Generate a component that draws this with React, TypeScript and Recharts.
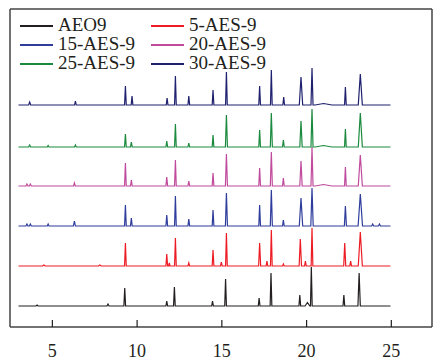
import React from 'react';
import { LineChart, Line, XAxis, YAxis } from 'recharts';

// peak tables: [2theta, height, half width]
const aeo9Peaks = [
  [4.1, 1, 0.06], [8.28, 2, 0.06], [9.27, 18, 0.05], [11.75, 5, 0.05], [12.2, 19, 0.05],
  [14.45, 5, 0.05], [15.22, 27, 0.05], [17.2, 8, 0.05], [17.9, 33, 0.05], [19.6, 11, 0.05],
  [20.05, 3.5, 0.14], [20.28, 39, 0.05], [22.2, 11, 0.05], [23.1, 33, 0.07],
];
const aes5Peaks = [
  [4.5, 1, 0.08], [7.8, 1, 0.08], [9.31, 23, 0.05], [11.75, 12, 0.05], [11.9, 3, 0.04], [12.26, 28, 0.05],
  [13.05, 3, 0.05], [14.48, 16, 0.05], [14.97, 4, 0.05], [15.27, 33, 0.05], [17.23, 23, 0.06],
  [17.66, 5, 0.05], [17.92, 36, 0.05], [18.63, 2, 0.05], [19.63, 27, 0.07], [19.93, 5, 0.05],
  [20.32, 38, 0.05], [22.25, 23, 0.06], [22.6, 5, 0.05], [23.17, 34, 0.12],
];
const aes15Peaks = [
  [3.5, 2, 0.06], [3.7, 2, 0.06], [4.75, 2, 0.05], [6.3, 5, 0.06], [9.31, 21, 0.05], [9.66, 8, 0.05],
  [11.75, 11, 0.05], [12.26, 30, 0.05], [13.05, 7, 0.05], [14.48, 16, 0.05], [15.27, 33, 0.06],
  [17.23, 21, 0.05], [17.92, 36, 0.06], [18.63, 6, 0.05], [19.67, 28, 0.1], [20.32, 38, 0.07],
  [22.29, 20, 0.06], [23.17, 32, 0.13], [23.9, 2, 0.06], [24.3, 2, 0.06],
];
const aes20Peaks = [
  [3.5, 2, 0.06], [3.7, 2, 0.06], [6.3, 3, 0.05], [9.31, 23, 0.05], [9.66, 6, 0.05],
  [11.75, 9, 0.05], [12.26, 26, 0.05], [13.05, 5, 0.05], [14.48, 13, 0.05], [15.27, 32, 0.06],
  [17.23, 18, 0.05], [17.92, 34, 0.06], [18.63, 8, 0.05], [19.67, 25, 0.07], [20.32, 39, 0.06],
  [21.0, 1.5, 0.5], [22.29, 19, 0.05], [23.17, 31, 0.12],
];
const aes25Peaks = [
  [3.66, 2, 0.06], [4.75, 1.5, 0.05], [6.36, 2, 0.05], [9.31, 13, 0.05], [9.66, 5, 0.05],
  [11.75, 6, 0.05], [12.26, 23, 0.05], [13.05, 4, 0.05], [14.48, 12, 0.05], [15.27, 32, 0.06],
  [17.23, 17, 0.05], [17.92, 34, 0.06], [18.63, 7, 0.05], [19.67, 26, 0.07], [20.32, 38, 0.06],
  [21.0, 1.5, 0.5], [22.29, 18, 0.05], [23.17, 34, 0.12],
];
const aes30Peaks = [
  [3.66, 3, 0.06], [6.36, 4, 0.05], [9.31, 19, 0.05], [9.7, 9, 0.05], [11.77, 7, 0.05],
  [12.26, 29, 0.05], [13.05, 9, 0.05], [14.48, 15, 0.05], [15.27, 33, 0.05], [17.23, 19, 0.05],
  [17.92, 35, 0.05], [18.65, 8, 0.05], [19.67, 28, 0.1], [20.32, 37, 0.06], [21.0, 1.5, 0.5],
  [22.29, 18, 0.05], [23.17, 31, 0.12],
];

const seriesNames = ['AEO9', '5-AES-9', '15-AES-9', '20-AES-9', '25-AES-9', '30-AES-9'];
const seriesPeaks = [aeo9Peaks, aes5Peaks, aes15Peaks, aes20Peaks, aes25Peaks, aes30Peaks];
const seriesOffsets = [0, 40, 80, 120, 159, 201];
const scanRange = [3.0, 24.95];
const xTicks = [5, 10, 15, 20, 25];

const colors = ['#231f20', '#ed1c24', '#2e3d9c', '#c04b9c', '#1b8a3e', '#1f216e'];
const font = 'Liberation Serif';

function buildTrace(peaks: number[][], offset: number) {
  const pts = [{ x: scanRange[0], y: offset }];
  peaks.forEach(([pos, h, w]) => {
    pts.push({ x: pos - w, y: offset });
    pts.push({ x: pos, y: offset + h });
    pts.push({ x: pos + w, y: offset });
  });
  pts.push({ x: scanRange[1], y: offset });
  return pts;
}

function LegendBox() {
  return (
    <div style={{ position: 'absolute', left: 0, top: 0, fontFamily: font, fontSize: 19, color: '#231f20' }}>
      {seriesNames.map((name, i) => {
        const col = i % 2;
        const row = Math.floor(i / 2);
        const left = col === 0 ? 20 : 151;
        const lineY = 26 + row * 19;
        return (
          <React.Fragment key={name}>
            <div
              style={{
                position: 'absolute',
                left,
                top: lineY - 1,
                width: 33,
                height: 1.5,
                background: colors[i],
              }}
            />
            <div
              style={{
                position: 'absolute',
                left: left + 38,
                top: lineY - 9.7,
                height: 18,
                lineHeight: '18px',
                whiteSpace: 'nowrap',
              }}
            >
              {name}
            </div>
          </React.Fragment>
        );
      })}
    </div>
  );
}

export default function App() {
  const frame = '#444';
  return (
    <div style={{ position: 'absolute', left: 0, top: 0, width: 437, height: 363, background: '#fff' }}>
      <LineChart width={437} height={363} margin={{ top: 8, right: 4, bottom: 6, left: 9 }}>
        <XAxis
          type="number"
          dataKey="x"
          domain={[2.5, 27.4]}
          allowDataOverflow
          ticks={xTicks}
          interval={0}
          height={30}
          tickSize={-7}
          tickMargin={24}
          axisLine={{ stroke: frame, strokeWidth: 1.5 }}
          tickLine={{ stroke: '#231f20', strokeWidth: 1.2 }}
          tick={{ fill: '#231f20', fontSize: 18, fontFamily: font }}
        />
        <XAxis
          xAxisId="top"
          orientation="top"
          type="number"
          dataKey="x"
          domain={[2.5, 27.4]}
          allowDataOverflow
          height={1}
          tick={false}
          tickLine={false}
          axisLine={{ stroke: frame, strokeWidth: 1.5 }}
        />
        <YAxis
          type="number"
          domain={[-21, 297]}
          allowDataOverflow
          width={1}
          tick={false}
          tickLine={false}
          axisLine={{ stroke: frame, strokeWidth: 1.5 }}
        />
        <YAxis
          yAxisId="r"
          orientation="right"
          type="number"
          domain={[-21, 297]}
          allowDataOverflow
          width={1}
          tick={false}
          tickLine={false}
          axisLine={{ stroke: frame, strokeWidth: 1.5 }}
        />
        {seriesPeaks.map((peaks, i) => (
          <Line
            key={seriesNames[i]}
            data={buildTrace(peaks, seriesOffsets[i])}
            dataKey="y"
            name={seriesNames[i]}
            type="linear"
            stroke={colors[i]}
            strokeWidth={1.2}
            dot={false}
            isAnimationActive={false}
          />
        ))}
      </LineChart>
      <LegendBox />
    </div>
  );
}
